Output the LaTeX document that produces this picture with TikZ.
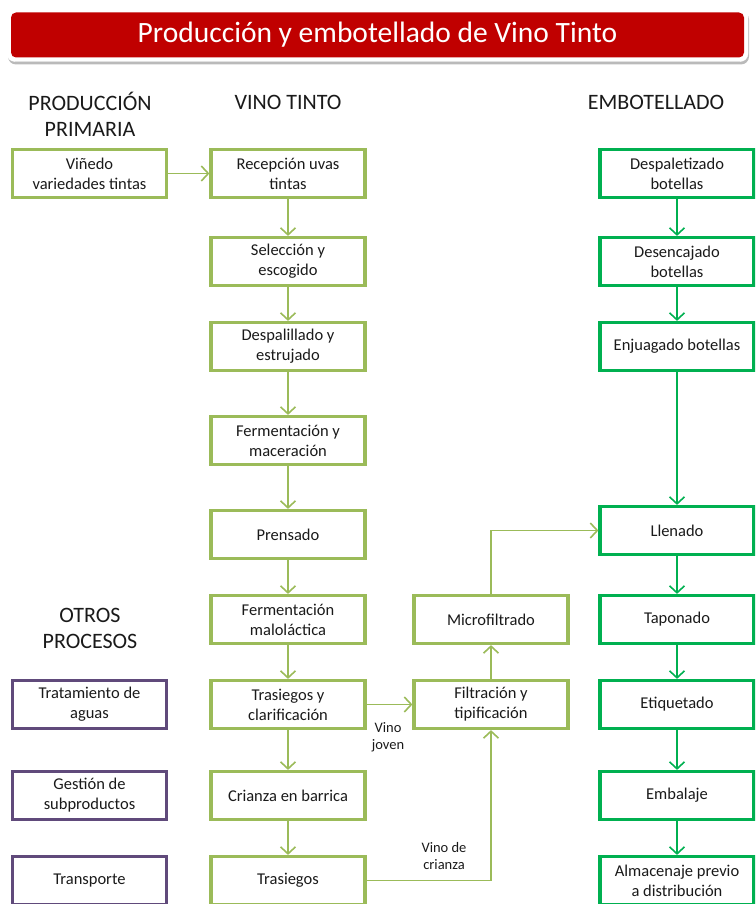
\documentclass[tikz,border=0pt]{standalone}
\usepackage{fontspec}
\setmainfont{Carlito}
\usetikzlibrary{arrows.meta,shadows}
\definecolor{lgreen}{HTML}{9BBB59}
\definecolor{dgreen}{HTML}{00B050}
\definecolor{purp}{HTML}{604A7B}
\definecolor{tred}{HTML}{C00000}
\definecolor{txt}{HTML}{1A1A1A}
\tikzset{
  x=1pt,y=1pt,
  box/.style={draw, line width=3.2pt, fill=white, minimum width=154pt, minimum height=48pt,
    align=center, font=\fontsize{16.5}{20}\selectfont, text=txt, inner sep=2pt},
  gbox/.style={box, draw=lgreen},
  dbox/.style={box, draw=dgreen},
  pbox/.style={box, draw=purp},
  head/.style={align=center, font=\fontsize{22}{26}\selectfont, text=txt},
  lbl/.style={align=center, font=\fontsize{14.5}{17}\selectfont, text=txt},
  arr/.style={draw=lgreen, line width=1.6pt, -{Straight Barb[length=7pt,width=15pt,line width=1.6pt]}},
  darr/.style={arr, draw=dgreen},
}
\begin{document}
\begin{tikzpicture}
\useasboundingbox (0,0) rectangle (755,-904);
\clip (0,0) rectangle (755,-904);
% title
\node[draw=white, fill=white, rounded corners=8pt, minimum width=741pt, minimum height=53pt,
  drop shadow={shadow xshift=1pt, shadow yshift=-3pt, fill=black!45, opacity=0.6}] (tframe) at (377.5,-35) {};
\node[fill=tred, rounded corners=5pt, minimum width=733pt, minimum height=45pt,
  text=white, font=\fontsize{29.5}{32}\selectfont] (title) at (377.5,-35) {Producción y embotellado de Vino Tinto};
% headers
\node[head] (hprod) at (90,-114) {PRODUCCIÓN\\PRIMARIA};
\node[head] (hvino) at (288,-102) {VINO TINTO};
\node[head] (hemb) at (656,-102) {EMBOTELLADO};
\node[head] (hotros) at (90,-628) {OTROS\\PROCESOS};
% left column
\node[gbox] (vin) at (89.5,-173.5) {Viñedo\\variedades tintas};
\node[pbox] (agua) at (89.5,-704.5) {Tratamiento de\\aguas};
\node[pbox] (gest) at (89.5,-795.5) {Gestión de\\subproductos};
\node[pbox] (trans) at (89.5,-880.5) {Transporte};
% center column
\node[gbox] (rec) at (288,-173.5) {Recepción uvas\\tintas};
\node[gbox] (sel) at (288,-261.5) {Selección y\\escogido};
\node[gbox] (desp) at (288,-346.5) {Despalillado y\\estrujado};
\node[gbox] (ferm) at (288,-440.5) {Fermentación y\\maceración};
\node[gbox] (pren) at (288,-534.5) {Prensado};
\node[gbox] (malo) at (288,-619.5) {Fermentación\\maloláctica};
\node[gbox] (tcla) at (288,-704.5) {Trasiegos y\\clarificación};
\node[gbox] (cri) at (288,-795.5) {Crianza en barrica};
\node[gbox] (tras) at (288,-880.5) {Trasiegos};
% third column
\node[gbox] (micro) at (491,-619.5) {Microfiltrado};
\node[gbox] (filt) at (491,-704.5) {Filtración y\\tipificación};
% right column
\node[dbox] (dpal) at (677,-173.5) {Despaletizado\\botellas};
\node[dbox] (denc) at (677,-261.5) {Desencajado\\botellas};
\node[dbox] (enj) at (677,-346.5) {Enjuagado botellas};
\node[dbox] (llen) at (677,-530.5) {Llenado};
\node[dbox] (tap) at (677,-619.5) {Taponado};
\node[dbox] (eti) at (677,-704.5) {Etiquetado};
\node[dbox] (emb) at (677,-795.5) {Embalaje};
\node[dbox] (alm) at (677,-880.5) {Almacenaje previo\\a distribución};
% arrows
\draw[arr] (vin) -- (rec);
\draw[arr] (rec) -- (sel);
\draw[arr] (sel) -- (desp);
\draw[arr] (desp) -- (ferm);
\draw[arr] (ferm) -- (pren);
\draw[arr] (pren) -- (malo);
\draw[arr] (malo) -- (tcla);
\draw[arr] (tcla) -- (cri);
\draw[arr] (cri) -- (tras);
\draw[arr] (tcla) -- (filt);
\draw[arr] (filt) -- (micro);
\draw[arr] (micro.north) |- (llen.west);
\draw[arr] (tras.east) -| (filt.south);
\draw[darr] (dpal) -- (denc);
\draw[darr] (denc) -- (enj);
\draw[darr] (enj) -- (llen);
\draw[darr] (llen) -- (tap);
\draw[darr] (tap) -- (eti);
\draw[darr] (eti) -- (emb);
\draw[darr] (emb) -- (alm);
% labels
\node[lbl] (ljov) at (388,-737) {Vino\\joven};
\node[lbl] (lcri) at (444,-856) {Vino de\\crianza};
\end{tikzpicture}
\end{document}
